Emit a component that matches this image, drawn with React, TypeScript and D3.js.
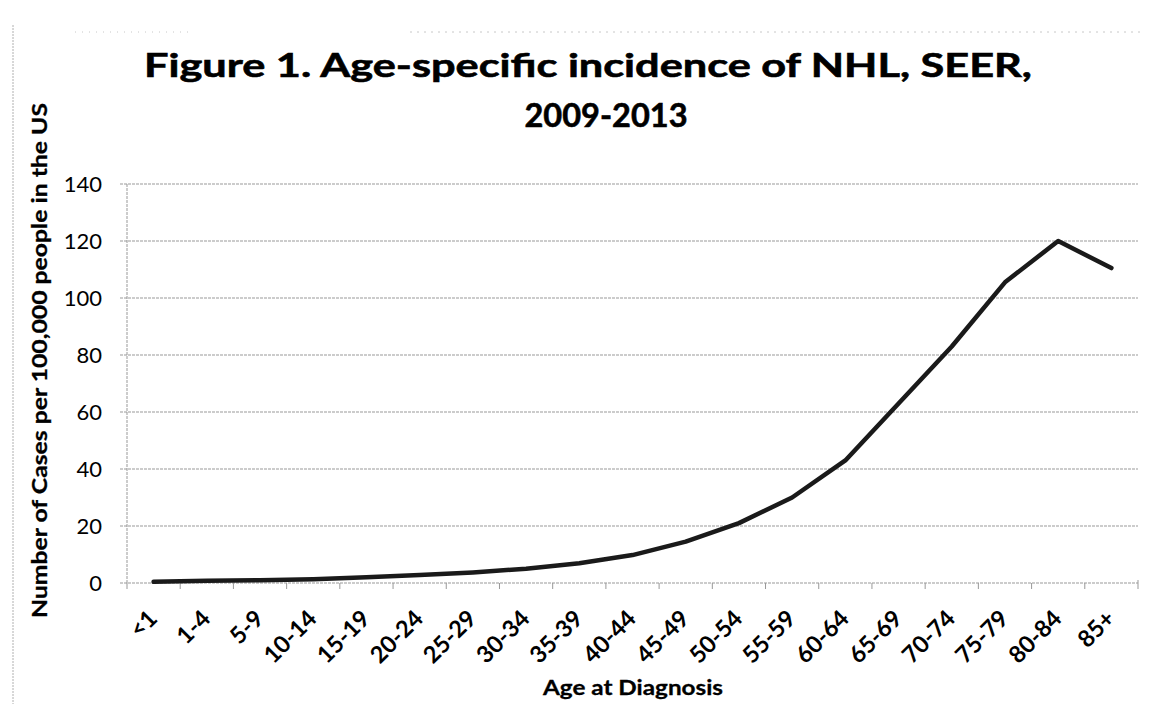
import React from "react";
import * as d3 from "d3";

const categories = ["<1","1-4","5-9","10-14","15-19","20-24","25-29","30-34","35-39","40-44","45-49","50-54","55-59","60-64","65-69","70-74","75-79","80-84","85+"];
const incidence = [0.4,0.8,1.0,1.3,2.0,2.8,3.7,5.0,6.9,9.8,14.5,21,30,43,63,83,105.5,120,110.5];
const yTicks = [0,20,40,60,80,100,120,140];
const titleLines = ["Figure 1. Age-specific incidence of NHL, SEER,", "2009-2013"];
const yAxisTitle = "Number of Cases per 100,000 people in the US";
const xAxisTitle = "Age at Diagnosis";

const W = 1151, H = 704;
const left = 127, right = 1138, top = 184, bottom = 583;

export default function App() {
  const x = d3.scaleBand<string>().domain(categories).range([left, right]);
  const y = d3.scaleLinear().domain([0, 140]).range([bottom, top]);
  const line = d3.line<number>()
    .x((_, i) => (x(categories[i]) as number) + x.bandwidth() / 2)
    .y((d) => y(d));
  const gridColor = "#999";
  const font = "Lato, 'Open Sans', sans-serif";
  const boundaries = categories.map((c) => x(c) as number).concat([right]);
  return (
    <svg width={W} height={H} style={{ position: "absolute", left: 0, top: 0, background: "#fff" }}>
      <rect x={0} y={0} width={W} height={H} fill="#fff" />
      {/* scan border remnants */}
      <line x1={13} x2={13} y1={25} y2={H} stroke="#b0b0b0" strokeWidth={1} strokeDasharray="2 1" />
      <line x1={75} x2={190} y1={32} y2={32} stroke="#c8c8c8" strokeWidth={1} strokeDasharray="1 6" />
      <line x1={410} x2={1140} y1={32} y2={32} stroke="#c8c8c8" strokeWidth={1} strokeDasharray="2 5" />

      {/* title */}
      <text x={588} y={77} textAnchor="middle" fontFamily={font} fontWeight={700} fontSize={33} fill="#000"
        stroke="#000" strokeWidth={0.6}
        textLength={888} lengthAdjust="spacingAndGlyphs">{titleLines[0]}</text>
      <text x={606} y={127} textAnchor="middle" fontFamily={font} fontWeight={700} fontSize={33} fill="#000"
        stroke="#000" strokeWidth={0.6}
        textLength={163} lengthAdjust="spacingAndGlyphs">{titleLines[1]}</text>

      {/* gridlines */}
      {yTicks.map((t) => (
        <g key={t}>
          <line x1={120} x2={right} y1={y(t)} y2={y(t)} stroke={gridColor} strokeWidth={1} strokeDasharray="3 1" />
          <text x={102} y={y(t)} dy="0.36em" textAnchor="end" fontFamily={font} fontSize={22} fill="#000">{t}</text>
        </g>
      ))}
      {/* y axis */}
      <line x1={left} x2={left} y1={top} y2={bottom} stroke={gridColor} strokeWidth={1} strokeDasharray="3 1" />
      {/* x ticks */}
      {boundaries.map((b, i) => (
        <line key={i} x1={b} x2={b} y1={bottom} y2={bottom + 6} stroke={gridColor} strokeWidth={1} />
      ))}
      <line x1={right} x2={right} y1={bottom - 3} y2={bottom} stroke={gridColor} strokeWidth={1} />

      {/* x tick labels */}
      {categories.map((c) => {
        const cx = (x(c) as number) + x.bandwidth() / 2;
        return (
          <text key={c} transform={`translate(${cx + 5},${620}) rotate(-45)`} textAnchor="end"
            fontFamily={font} fontWeight={700} fontSize={23.5} fill="#000">{c}</text>
        );
      })}

      {/* data line */}
      <path d={line(incidence) as string} fill="none" stroke="#1a1a1a" strokeWidth={4.5}
        strokeLinejoin="round" strokeLinecap="round" />

      {/* axis titles */}
      <text transform={`translate(47,${360.5}) rotate(-90)`} textAnchor="middle" fontFamily={font}
        fontWeight={700} fontSize={21} fill="#000" stroke="#000" strokeWidth={0.3}
        textLength={515} lengthAdjust="spacingAndGlyphs">{yAxisTitle}</text>
      <text x={633} y={695} textAnchor="middle" fontFamily={font} fontWeight={700} fontSize={20} fill="#000"
        stroke="#000" strokeWidth={0.3}
        textLength={180} lengthAdjust="spacingAndGlyphs">{xAxisTitle}</text>
    </svg>
  );
}
